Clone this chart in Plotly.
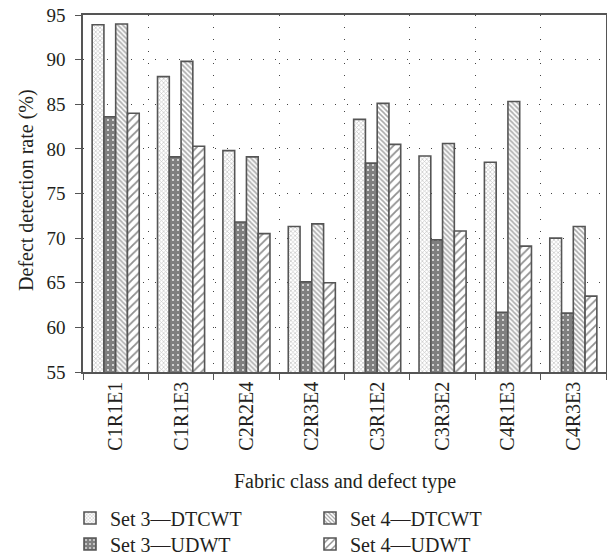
import plotly.graph_objects as go

categories = ["C1R1E1", "C1R1E3", "C2R2E4", "C2R3E4", "C3R1E2", "C3R3E2", "C4R1E3", "C4R3E3"]
set3_dtcwt = [93.9, 88.1, 79.8, 71.3, 83.3, 79.2, 78.5, 70.0]
set3_udwt = [83.6, 79.1, 71.8, 65.1, 78.4, 69.8, 61.7, 61.6]
set4_dtcwt = [94.0, 89.8, 79.1, 71.6, 85.1, 80.6, 85.3, 71.3]
set4_udwt = [84.0, 80.3, 70.5, 65.0, 80.5, 70.8, 69.1, 63.5]
y_ticks = [55, 60, 65, 70, 75, 80, 85, 90, 95]

FONT = "Liberation Serif"
OUTLINE = dict(color="#555555", width=1.6)

W, H = 607, 559
ML, MR, MT, MB = 83, 1, 15, 187
PW, PH = W - ML - MR, H - MT - MB


def px_to_paper_x(px):
    return (px - ML) / PW


def px_to_paper_y(py):
    return 1 - (py - MT) / PH


series = [
    ("Set 3\u2014DTCWT", set3_dtcwt, dict(shape="x", fgcolor="#8a8a8a", bgcolor="white", size=3, solidity=0.4), "legend", 70, 518),
    ("Set 3\u2014UDWT", set3_udwt, dict(shape="+", fgcolor="#000000", bgcolor="white", size=5, solidity=0.88), "legend2", 70, 544),
    ("Set 4\u2014DTCWT", set4_dtcwt, dict(shape="\\", fgcolor="#555555", bgcolor="white", size=3.5, solidity=0.45), "legend3", 310, 518),
    ("Set 4\u2014UDWT", set4_udwt, dict(shape="/", fgcolor="#222222", bgcolor="white", size=6, solidity=0.3), "legend4", 310, 544),
]

fig = go.Figure()
legends = {}
for name, vals, pat, lg, lx, ly in series:
    fig.add_trace(go.Bar(
        x=categories, y=vals, name=name, legend=lg,
        marker=dict(color="white", line=OUTLINE, pattern=pat),
    ))
    legends[lg] = dict(x=px_to_paper_x(lx), y=px_to_paper_y(ly), xanchor="left", yanchor="middle",
                       font=dict(size=20), bgcolor="rgba(0,0,0,0)", borderwidth=0)

fig.update_layout(
    width=W, height=H,
    margin=dict(l=ML, r=MR, t=MT, b=MB, autoexpand=False),
    paper_bgcolor="white", plot_bgcolor="white",
    barmode="group", bargap=0.28, bargroupgap=0,
    font=dict(family=FONT, size=19, color="#231f20"),
    showlegend=True,
    xaxis=dict(
        type="category", tickson="boundaries", ticks="outside", ticklen=6,
        tickcolor="#555555", tickangle=-90,
        showline=True, linecolor="#555555", linewidth=1.5, mirror=True,
        showgrid=True, gridcolor="#444444", gridwidth=1, griddash="1px,11px",
        tickfont=dict(size=20),
    ),
    yaxis=dict(
        range=[55, 95], tickvals=y_ticks, ticks="outside", ticklen=6,
        tickcolor="#555555",
        showline=True, linecolor="#555555", linewidth=1.5, mirror=True,
        showgrid=True, gridcolor="#444444", gridwidth=1, griddash="1px,11px",
        zeroline=False, tickfont=dict(size=19), ticklabelstandoff=6,
    ),
    annotations=[
        dict(text="Fabric class and defect type", xref="paper", yref="paper",
             x=0.5, y=px_to_paper_y(481), xanchor="center", yanchor="middle",
             showarrow=False, font=dict(size=20)),
        dict(text="Defect detection rate (%)", xref="paper", yref="paper",
             x=px_to_paper_x(27), y=0.51, xanchor="center", yanchor="middle", textangle=-90,
             showarrow=False, font=dict(size=20)),
    ],
    **legends,
)

fig.write_html(
    "out.html",
    config={"displayModeBar": False},
    post_script="document.body.style.margin='0';document.body.style.overflow='hidden';",
)
